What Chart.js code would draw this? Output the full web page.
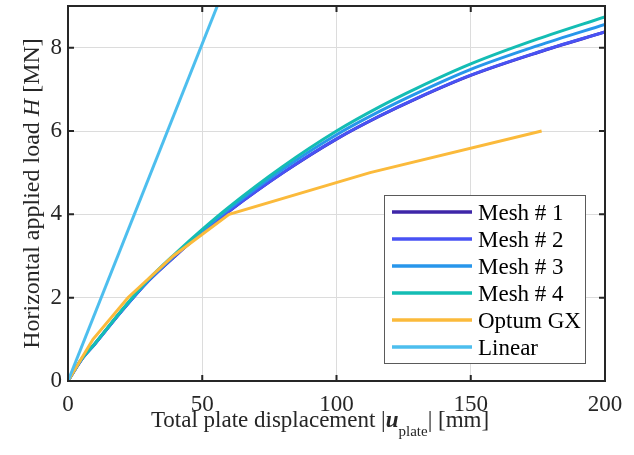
<!DOCTYPE html>
<html>
<head>
<meta charset="utf-8">
<script src="https://cdn.jsdelivr.net/npm/chart.js@4"></script>
<style>
  body { margin: 0; background: #fff; }
  #wrap { width: 634px; height: 455px; }
</style>
</head>
<body>
<div id="wrap"><canvas id="myChart"></canvas></div>
<script>
// displacement [mm] for the mesh curves
var meshDisp = [0, 5, 10, 20, 30, 40, 50, 60, 80, 100, 116, 130, 150, 175, 200];
var mesh1 = [0, 0.51, 0.89, 1.68, 2.405, 3.005, 3.565, 4.075, 4.995, 5.805, 6.355, 6.785, 7.335, 7.885, 8.375];
var mesh2 = [0, 0.51, 0.89, 1.68, 2.41, 3.01, 3.57, 4.08, 5.00, 5.81, 6.36, 6.79, 7.34, 7.89, 8.38];
var mesh3 = [0, 0.52, 0.89, 1.685, 2.42, 3.03, 3.60, 4.13, 5.08, 5.91, 6.47, 6.91, 7.48, 8.05, 8.56];
var mesh4 = [0, 0.52, 0.90, 1.70, 2.44, 3.06, 3.64, 4.18, 5.15, 6.00, 6.58, 7.03, 7.61, 8.21, 8.74];

var optumDisp = [0, 9.3, 22.3, 39.2, 60, 112.5, 176.4];
var optumLoad = [0, 1, 2, 3, 4, 5, 6];

var linearDisp = [0, 55.6];
var linearLoad = [0, 9];

var seriesNames = ["Mesh # 1", "Mesh # 2", "Mesh # 3", "Mesh # 4", "Optum GX", "Linear"];
var seriesColors = ["#3e26a8", "#4852f4", "#2796eb", "#14bdb4", "#fbba3b", "#4dbeee"];

var xTicks = [0, 50, 100, 150, 200];
var yTicks = [0, 2, 4, 6, 8];

var serif = "'Liberation Serif', 'Times New Roman', serif";
var ink = "#262626";

function pairs(xs, ys) {
  return xs.map(function (x, i) { return { x: x, y: ys[i] }; });
}

var seriesData = [
  pairs(meshDisp, mesh1),
  pairs(meshDisp, mesh2),
  pairs(meshDisp, mesh3),
  pairs(meshDisp, mesh4),
  pairs(optumDisp, optumLoad),
  pairs(linearDisp, linearLoad)
];

var datasets = seriesData.map(function (d, i) {
  return {
    label: seriesNames[i],
    data: d,
    borderColor: seriesColors[i],
    backgroundColor: seriesColors[i],
    borderWidth: 3,
    pointRadius: 0,
    fill: false,
    cubicInterpolationMode: i < 4 ? "monotone" : "default",
    tension: 0,
    order: seriesNames.length - i
  };
});

// frame, inward ticks, axis titles and the boxed legend
var decor = {
  id: "decor",
  afterDatasetsDraw: function (chart) {
    var ctx = chart.ctx;
    var a = chart.chartArea;
    var xs = chart.scales.x, ys = chart.scales.y;
    var tl = 6;
    ctx.save();
    ctx.strokeStyle = ink;
    ctx.lineWidth = 2;
    ctx.beginPath();
    xTicks.forEach(function (v) {
      var px = xs.getPixelForValue(v);
      ctx.moveTo(px, a.bottom); ctx.lineTo(px, a.bottom - tl);
      ctx.moveTo(px, a.top); ctx.lineTo(px, a.top + tl);
    });
    yTicks.forEach(function (v) {
      var py = ys.getPixelForValue(v);
      ctx.moveTo(a.left, py); ctx.lineTo(a.left + tl, py);
      ctx.moveTo(a.right, py); ctx.lineTo(a.right - tl, py);
    });
    ctx.stroke();
    ctx.strokeRect(a.left, a.top, a.right - a.left, a.bottom - a.top);

    // legend
    var lx = 384, ly = 195, lw = 201, lh = 168;
    ctx.fillStyle = "#fff";
    ctx.fillRect(lx, ly, lw, lh);
    ctx.strokeStyle = "#5a5a5a";
    ctx.lineWidth = 1;
    ctx.strokeRect(lx + 0.5, ly + 0.5, lw, lh);
    ctx.font = "23px " + serif;
    ctx.textBaseline = "alphabetic";
    ctx.textAlign = "left";
    chart.data.datasets.forEach(function (ds, i) {
      var cy = 212 + i * 27;
      ctx.strokeStyle = ds.borderColor;
      ctx.lineWidth = 3.5;
      ctx.beginPath();
      ctx.moveTo(392, cy); ctx.lineTo(472, cy);
      ctx.stroke();
      ctx.fillStyle = "#000";
      ctx.fillText(ds.label, 478, cy + 8);
    });
    ctx.restore();
  },
  afterDraw: function (chart) {
    var ctx = chart.ctx;
    var a = chart.chartArea;
    ctx.save();
    ctx.fillStyle = ink;
    ctx.textBaseline = "alphabetic";
    ctx.textAlign = "left";

    // y title
    var yParts = [
      ["Horizontal applied load ", "24px " + serif],
      ["H", "italic 24px " + serif],
      [" [MN]", "24px " + serif]
    ];
    var total = 0;
    yParts.forEach(function (p) { ctx.font = p[1]; total += ctx.measureText(p[0]).width; });
    ctx.translate(39, (a.top + a.bottom) / 2);
    ctx.rotate(-Math.PI / 2);
    var cx = -total / 2;
    yParts.forEach(function (p) {
      ctx.font = p[1];
      ctx.fillText(p[0], cx, 0);
      cx += ctx.measureText(p[0]).width;
    });
    ctx.setTransform(1, 0, 0, 1, 0, 0);

    // x title
    var xParts = [
      ["Total plate displacement |", "23px " + serif, 0],
      ["u", "bold italic 23px " + serif, 0],
      ["plate", "15px " + serif, 9],
      ["| [mm]", "23px " + serif, 0]
    ];
    total = 0;
    xParts.forEach(function (p) { ctx.font = p[1]; total += ctx.measureText(p[0]).width; });
    cx = 320 - total / 2;
    xParts.forEach(function (p) {
      ctx.font = p[1];
      ctx.fillText(p[0], cx, 427 + p[2]);
      cx += ctx.measureText(p[0]).width;
    });
    ctx.restore();
  }
};

new Chart("myChart", {
  type: "line",
  data: { datasets: datasets },
  plugins: [decor],
  options: {
    responsive: true,
    maintainAspectRatio: false,
    animation: false,
    layout: { padding: { top: 6, right: 29, left: 0, bottom: 0 } },
    plugins: {
      legend: { display: false },
      tooltip: { enabled: false }
    },
    scales: {
      x: {
        type: "linear",
        min: 0,
        max: 200,
        afterFit: function (s) { s.height = 74; s.paddingLeft = 0; s.paddingRight = 0; },
        afterBuildTicks: function (s) { s.ticks = xTicks.map(function (v) { return { value: v }; }); },
        border: { display: false },
        grid: { color: "#dcdcdc", lineWidth: 1, drawTicks: false },
        ticks: { font: { family: serif, size: 23 }, color: ink, padding: 10, maxRotation: 0 }
      },
      y: {
        type: "linear",
        min: 0,
        max: 9,
        afterFit: function (s) { s.width = 68; s.paddingTop = 0; s.paddingBottom = 0; },
        afterBuildTicks: function (s) { s.ticks = yTicks.map(function (v) { return { value: v }; }); },
        border: { display: false },
        grid: { color: "#dcdcdc", lineWidth: 1, drawTicks: false },
        ticks: { font: { family: serif, size: 23 }, color: ink, padding: 6 }
      }
    }
  }
});
</script>
</body>
</html>
